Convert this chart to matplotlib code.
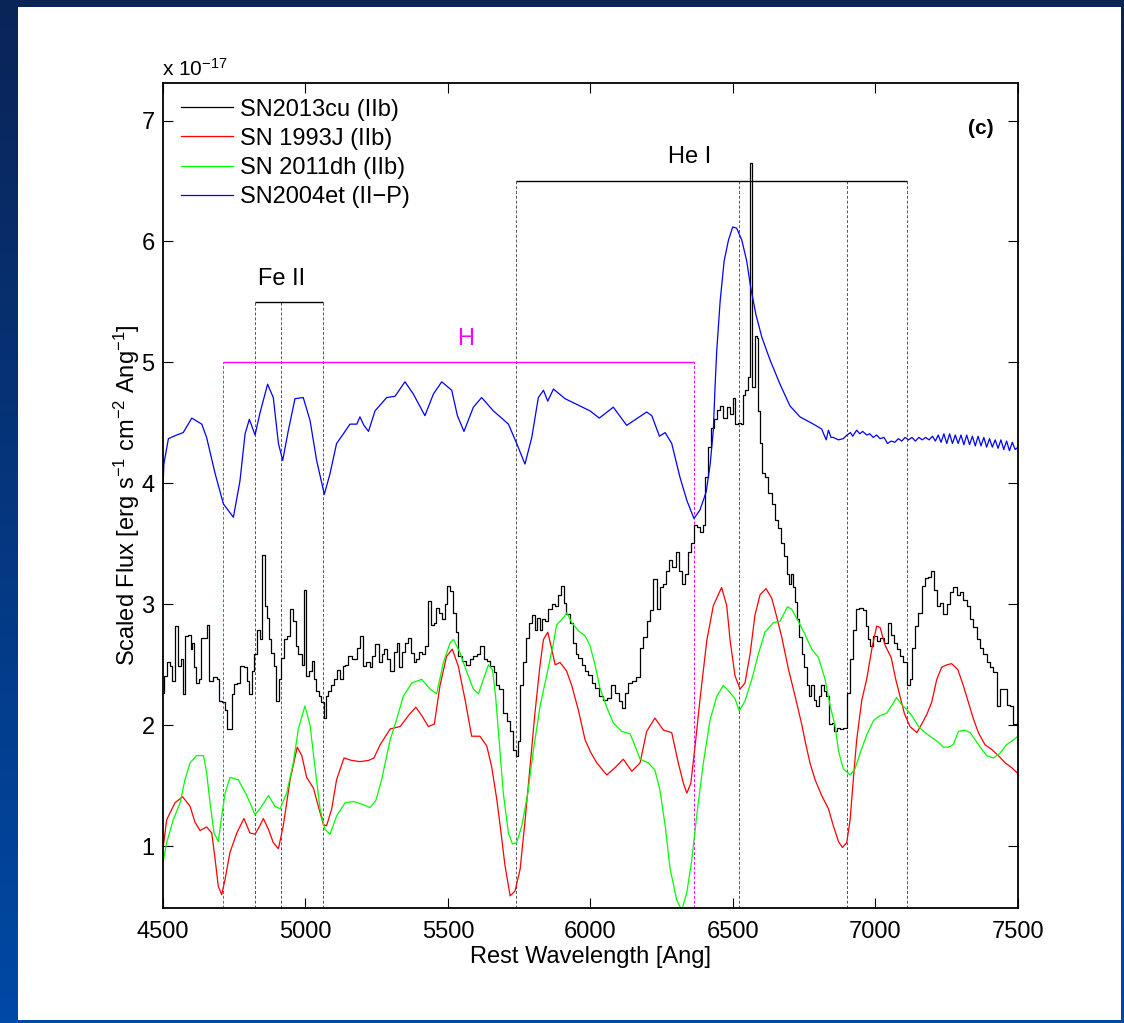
import matplotlib
matplotlib.use("Agg")
import matplotlib.pyplot as plt
import numpy as np
from matplotlib.colors import LinearSegmentedColormap
from matplotlib.patches import Rectangle

plt.rcParams["font.family"] = ["Liberation Sans", "DejaVu Sans"]
plt.rcParams["mathtext.fontset"] = "custom"
plt.rcParams["mathtext.rm"] = "Liberation Sans"
plt.rcParams["mathtext.it"] = "Liberation Sans:italic"

# spectra, flux in units of 1e-17 erg/s/cm2/A
wl_13cu = [4500, 4507, 4519, 4530, 4536, 4548, 4557, 4566, 4574, 4583, 4592, 4601, 4606, 4612,
           4620, 4630, 4639, 4651, 4659, 4665, 4683, 4694, 4702, 4712, 4721, 4729, 4737, 4745,
           4756, 4764, 4774, 4791, 4799, 4808, 4815, 4826, 4835, 4844, 4852, 4861, 4870, 4876,
           4885, 4893, 4902, 4911, 4920, 4932, 4940, 4952, 4961, 4969, 4981, 4992, 4999, 5008,
           5018, 5028, 5033, 5041, 5051, 5060, 5068, 5074, 5086, 5095, 5107, 5115, 5127, 5133,
           5145, 5154, 5174, 5188, 5197, 5205, 5221, 5229, 5238, 5252, 5261, 5273, 5281, 5291,
           5305, 5316, 5323, 5332, 5343, 5355, 5367, 5375, 5384, 5394, 5402, 5414, 5425, 5437,
           5445, 5455, 5464, 5472, 5484, 5492, 5501, 5513, 5522, 5531, 5542, 5554, 5569, 5583,
           5595, 5607, 5621, 5630, 5642, 5656, 5665, 5674, 5686, 5700, 5712, 5724, 5733, 5741,
           5749, 5759, 5770, 5780, 5788, 5800, 5808, 5817, 5826, 5835, 5846, 5858, 5870, 5881,
           5893, 5901, 5911, 5920, 5934, 5943, 5952, 5963, 5975, 5987, 5998, 6010, 6022, 6039,
           6051, 6063, 6080, 6092, 6106, 6115, 6127, 6139, 6153, 6168, 6180, 6191, 6203, 6215,
           6226, 6238, 6250, 6261, 6270, 6281, 6293, 6305, 6317, 6326, 6338, 6349, 6359, 6367,
           6378, 6390, 6398, 6408, 6418, 6430, 6440, 6449, 6460, 6472, 6484, 6495, 6504, 6513,
           6522, 6531, 6536, 6548, 6554, 6563, 6569, 6575, 6581, 6586, 6590, 6597, 6607, 6618,
           6630, 6642, 6653, 6665, 6674, 6683, 6694, 6700, 6706, 6714, 6721, 6729, 6737, 6747,
           6754, 6762, 6770, 6779, 6788, 6797, 6805, 6814, 6823, 6832, 6841, 6852, 6860, 6870,
           6881, 6893, 6905, 6914, 6926, 6938, 6949, 6961, 6969, 6977, 6987, 6998, 7010, 7024,
           7039, 7048, 7059, 7071, 7083, 7092, 7104, 7115, 7125, 7133, 7145, 7156, 7168, 7180,
           7191, 7200, 7209, 7221, 7232, 7244, 7256, 7267, 7279, 7291, 7302, 7314, 7326, 7338,
           7349, 7361, 7373, 7384, 7396, 7408, 7420, 7431, 7443, 7455, 7466, 7478, 7490, 7500]
fl_13cu = [2.27, 2.41, 2.52, 2.49, 2.37, 2.82, 2.49, 2.55, 2.26, 2.74, 2.75, 2.63, 2.68, 2.48,
           2.35, 2.38, 2.72, 2.72, 2.83, 2.37, 2.40, 2.38, 2.20, 2.19, 2.13, 1.97, 1.97, 2.26,
           2.34, 2.35, 2.49, 2.48, 2.37, 2.26, 2.45, 2.59, 2.79, 2.71, 3.41, 2.99, 2.89, 2.71,
           2.60, 2.49, 2.20, 2.38, 2.56, 2.71, 2.74, 2.96, 2.86, 2.66, 2.59, 2.50, 3.12, 2.41,
           2.45, 2.53, 2.38, 2.28, 2.24, 2.19, 2.06, 2.24, 2.28, 2.33, 2.38, 2.46, 2.38, 2.49,
           2.50, 2.57, 2.55, 2.64, 2.74, 2.49, 2.52, 2.48, 2.57, 2.67, 2.52, 2.59, 2.63, 2.55,
           2.45, 2.61, 2.68, 2.48, 2.61, 2.68, 2.72, 2.60, 2.52, 2.55, 2.61, 2.59, 2.66, 3.03,
           2.83, 2.85, 2.97, 2.93, 2.88, 3.00, 3.15, 3.11, 2.93, 2.77, 2.57, 2.53, 2.50, 2.55,
           2.57, 2.59, 2.66, 2.55, 2.53, 2.49, 2.44, 2.33, 2.30, 2.10, 2.04, 1.95, 1.80, 1.75,
           1.87, 2.33, 2.52, 2.72, 2.85, 2.91, 2.79, 2.89, 2.79, 2.88, 2.86, 2.96, 3.00, 2.99,
           3.08, 3.15, 3.01, 2.92, 2.85, 2.68, 2.59, 2.56, 2.50, 2.45, 2.42, 2.35, 2.31, 2.24,
           2.21, 2.23, 2.33, 2.27, 2.20, 2.14, 2.27, 2.35, 2.37, 2.40, 2.64, 2.73, 2.86, 2.95,
           3.21, 2.96, 3.14, 3.17, 3.28, 3.37, 3.31, 3.43, 3.28, 3.17, 3.25, 3.43, 3.51, 3.66,
           3.64, 3.60, 3.66, 4.05, 4.30, 4.46, 4.53, 4.61, 4.64, 4.54, 4.63, 4.57, 4.71, 4.49,
           4.50, 4.49, 4.73, 4.77, 4.88, 6.65, 4.80, 4.80, 5.22, 5.20, 4.60, 4.33, 4.09, 4.05,
           3.92, 3.83, 3.70, 3.63, 3.51, 3.40, 3.25, 3.17, 3.25, 3.14, 3.02, 2.88, 2.73, 2.59,
           2.48, 2.33, 2.24, 2.33, 2.21, 2.16, 2.24, 2.33, 2.28, 2.24, 2.01, 2.02, 1.95, 1.98,
           1.97, 1.98, 2.27, 2.55, 2.79, 2.96, 2.97, 2.95, 2.82, 2.71, 2.66, 2.74, 2.70, 2.72,
           2.68, 2.85, 2.75, 2.68, 2.63, 2.57, 2.52, 2.33, 2.38, 2.64, 2.82, 2.93, 3.15, 3.22,
           3.23, 3.28, 3.12, 2.99, 3.01, 2.92, 3.00, 3.10, 3.14, 3.08, 3.10, 3.04, 2.99, 2.88,
           2.81, 2.71, 2.64, 2.59, 2.52, 2.48, 2.44, 2.16, 2.30, 2.30, 2.17, 2.16, 2.01, 2.00]

wl_93j = [4500, 4513, 4542, 4569, 4595, 4612, 4630, 4653, 4671, 4683, 4694, 4706, 4718, 4735,
          4759, 4784, 4805, 4823, 4840, 4852, 4870, 4887, 4905, 4922, 4946, 4971, 4987, 5004,
          5028, 5045, 5063, 5074, 5092, 5109, 5135, 5162, 5191, 5221, 5240, 5262, 5297, 5332,
          5361, 5387, 5408, 5431, 5452, 5472, 5495, 5515, 5536, 5560, 5583, 5612, 5636, 5653,
          5671, 5683, 5700, 5718, 5735, 5753, 5770, 5788, 5805, 5823, 5835, 5850, 5864, 5876,
          5893, 5916, 5934, 5957, 5981, 6000, 6022, 6057, 6086, 6115, 6145, 6174, 6197, 6226,
          6256, 6285, 6308, 6326, 6338, 6352, 6367, 6384, 6408, 6431, 6460, 6478, 6490, 6507,
          6525, 6542, 6560, 6577, 6595, 6616, 6636, 6653, 6671, 6694, 6718, 6741, 6753, 6770,
          6788, 6811, 6835, 6852, 6870, 6884, 6899, 6911, 6922, 6934, 6952, 6969, 6987, 7004,
          7016, 7034, 7055, 7071, 7086, 7101, 7121, 7145, 7162, 7180, 7197, 7215, 7232, 7250,
          7267, 7289, 7308, 7326, 7344, 7361, 7384, 7408, 7431, 7455, 7478, 7500]
fl_93j = [0.98, 1.22, 1.36, 1.41, 1.33, 1.20, 1.13, 1.16, 1.11, 0.89, 0.67, 0.60, 0.73, 0.95,
          1.11, 1.23, 1.11, 1.10, 1.17, 1.23, 1.14, 1.03, 0.98, 1.17, 1.55, 1.82, 1.75, 1.57,
          1.48, 1.33, 1.18, 1.17, 1.31, 1.55, 1.73, 1.71, 1.70, 1.71, 1.73, 1.84, 1.97, 1.99,
          2.08, 2.15, 2.08, 1.99, 2.01, 2.33, 2.57, 2.63, 2.49, 2.21, 1.91, 1.91, 1.83, 1.66,
          1.39, 1.17, 0.84, 0.59, 0.63, 0.81, 1.20, 1.66, 2.10, 2.50, 2.71, 2.77, 2.63, 2.50,
          2.52, 2.45, 2.33, 2.13, 1.88, 1.78, 1.69, 1.59, 1.65, 1.72, 1.62, 1.69, 1.95, 2.06,
          1.96, 1.94, 1.69, 1.52, 1.44, 1.52, 1.83, 2.21, 2.70, 2.99, 3.14, 2.99, 2.70, 2.41,
          2.30, 2.35, 2.59, 2.91, 3.08, 3.13, 3.05, 2.90, 2.73, 2.47, 2.24, 2.01, 1.87, 1.69,
          1.55, 1.42, 1.31, 1.17, 1.04, 0.99, 1.03, 1.22, 1.55, 1.88, 2.21, 2.38, 2.63, 2.82,
          2.81, 2.66, 2.56, 2.38, 2.24, 2.10, 1.99, 1.94, 2.01, 2.09, 2.19, 2.38, 2.48, 2.50,
          2.51, 2.46, 2.33, 2.19, 2.05, 1.94, 1.84, 1.80, 1.75, 1.69, 1.65, 1.60]

wl_11dh = [4500, 4513, 4536, 4560, 4577, 4595, 4618, 4642, 4653, 4665, 4679, 4694, 4706, 4718,
           4735, 4764, 4794, 4823, 4846, 4870, 4893, 4911, 4934, 4957, 4975, 4998, 5016, 5033,
           5051, 5068, 5086, 5109, 5139, 5168, 5197, 5226, 5247, 5267, 5297, 5320, 5343, 5373,
           5408, 5437, 5460, 5484, 5507, 5519, 5542, 5566, 5589, 5607, 5624, 5642, 5656, 5667,
           5679, 5694, 5712, 5726, 5741, 5759, 5780, 5800, 5823, 5846, 5870, 5881, 5905, 5917,
           5934, 5958, 5981, 5998, 6016, 6033, 6057, 6080, 6109, 6139, 6156, 6174, 6203, 6226,
           6244, 6262, 6279, 6302, 6320, 6338, 6355, 6373, 6396, 6419, 6443, 6466, 6490, 6507,
           6522, 6542, 6566, 6589, 6612, 6642, 6665, 6691, 6706, 6729, 6753, 6776, 6800, 6823,
           6841, 6858, 6870, 6887, 6911, 6928, 6946, 6969, 6993, 7016, 7039, 7059, 7074, 7092,
           7110, 7127, 7151, 7174, 7197, 7221, 7238, 7256, 7273, 7291, 7314, 7332, 7350, 7367,
           7390, 7414, 7437, 7460, 7484, 7500]
fl_11dh = [0.87, 1.03, 1.22, 1.36, 1.55, 1.69, 1.75, 1.75, 1.61, 1.36, 1.11, 1.04, 1.25, 1.44,
           1.57, 1.55, 1.42, 1.26, 1.33, 1.42, 1.33, 1.31, 1.44, 1.69, 1.97, 2.16, 2.00, 1.66,
           1.31, 1.14, 1.10, 1.25, 1.36, 1.37, 1.35, 1.32, 1.38, 1.55, 1.88, 2.05, 2.24, 2.35,
           2.38, 2.30, 2.26, 2.52, 2.68, 2.71, 2.60, 2.44, 2.30, 2.26, 2.38, 2.50, 2.46, 2.24,
           1.88, 1.44, 1.11, 1.02, 1.03, 1.17, 1.44, 1.80, 2.16, 2.41, 2.68, 2.83, 2.89, 2.93,
           2.85, 2.78, 2.74, 2.66, 2.50, 2.31, 2.15, 2.02, 1.95, 1.93, 1.83, 1.72, 1.69, 1.63,
           1.46, 1.17, 0.82, 0.56, 0.47, 0.62, 0.88, 1.26, 1.69, 2.04, 2.24, 2.33, 2.27, 2.22,
           2.12, 2.20, 2.38, 2.59, 2.77, 2.85, 2.86, 2.98, 2.96, 2.86, 2.75, 2.63, 2.56, 2.38,
           2.16, 2.00, 1.79, 1.64, 1.59, 1.64, 1.77, 1.92, 2.04, 2.08, 2.10, 2.17, 2.23, 2.17,
           2.13, 2.08, 1.99, 1.94, 1.90, 1.86, 1.82, 1.82, 1.84, 1.95, 1.96, 1.94, 1.88, 1.82,
           1.75, 1.73, 1.77, 1.84, 1.88, 1.91]

wl_04et = [4500, 4503, 4519, 4548, 4571, 4601, 4636, 4653, 4683, 4712, 4747, 4770, 4788, 4803,
           4823, 4840, 4867, 4887, 4905, 4920, 4940, 4963, 4992, 5016, 5039, 5066, 5086, 5109,
           5133, 5156, 5180, 5191, 5205, 5221, 5244, 5285, 5314, 5349, 5378, 5419, 5449, 5478,
           5513, 5533, 5556, 5589, 5618, 5659, 5712, 5741, 5770, 5794, 5817, 5835, 5850, 5870,
           5911, 5963, 5998, 6031, 6080, 6127, 6197, 6215, 6242, 6262, 6285, 6314, 6338, 6363,
           6384, 6406, 6420, 6431, 6437, 6443, 6455, 6469, 6484, 6499, 6513, 6531, 6548, 6562,
           6580, 6601, 6630, 6665, 6700, 6735, 6782, 6811, 6827, 6835, 6844, 6852, 6870, 6887,
           6900, 6912, 6920, 6934, 6945, 6955, 6969, 6980, 6992, 7004, 7016, 7030, 7042, 7055,
           7068, 7080, 7092, 7104, 7116, 7128, 7140, 7152, 7164, 7176, 7188, 7200, 7210, 7220,
           7230, 7240, 7250, 7260, 7270, 7280, 7290, 7300, 7310, 7320, 7330, 7340, 7350, 7360,
           7370, 7380, 7390, 7400, 7410, 7420, 7430, 7440, 7450, 7460, 7470, 7480, 7490, 7500]
fl_04et = [3.95, 4.16, 4.37, 4.40, 4.42, 4.54, 4.49, 4.38, 4.08, 3.83, 3.72, 4.02, 4.41, 4.53,
           4.40, 4.58, 4.82, 4.71, 4.33, 4.19, 4.44, 4.70, 4.71, 4.52, 4.19, 3.91, 4.08, 4.33,
           4.41, 4.49, 4.49, 4.55, 4.48, 4.43, 4.60, 4.71, 4.72, 4.84, 4.74, 4.56, 4.74, 4.84,
           4.77, 4.56, 4.43, 4.63, 4.71, 4.60, 4.49, 4.33, 4.16, 4.38, 4.71, 4.77, 4.68, 4.78,
           4.70, 4.64, 4.60, 4.54, 4.63, 4.48, 4.59, 4.56, 4.39, 4.42, 4.33, 4.05, 3.86, 3.71,
           3.78, 3.93, 4.16, 4.44, 4.80, 5.10, 5.51, 5.84, 6.01, 6.12, 6.11, 6.01, 5.84, 5.62,
           5.40, 5.21, 5.02, 4.82, 4.64, 4.55, 4.49, 4.45, 4.36, 4.44, 4.38, 4.38, 4.36, 4.37,
           4.40, 4.42, 4.39, 4.44, 4.41, 4.43, 4.40, 4.41, 4.38, 4.40, 4.37, 4.38, 4.33, 4.35,
           4.34, 4.37, 4.35, 4.38, 4.36, 4.38, 4.35, 4.38, 4.36, 4.38, 4.36, 4.39, 4.35, 4.40,
           4.34, 4.41, 4.33, 4.41, 4.33, 4.40, 4.33, 4.40, 4.32, 4.40, 4.32, 4.39, 4.31, 4.39,
           4.31, 4.38, 4.30, 4.37, 4.30, 4.36, 4.29, 4.36, 4.28, 4.35, 4.27, 4.34, 4.28, 4.30]

# line identifications: wavelengths and bar heights
feii_wl = [4822, 4913, 5062]
feii_bar = 5.5
h_wl = [4712, 6363]
h_bar = 5.0
hei_wl = [5737, 6522, 6901, 7112]
hei_bar = 6.5

W, H = 1124, 1023
fig = plt.figure(figsize=(W / 100, H / 100), dpi=100)

# blue slide background with a white panel
bg = fig.add_axes([0, 0, 1, 1], zorder=-10)
grad = np.linspace(0, 1, 256).reshape(-1, 1)
cmap = LinearSegmentedColormap.from_list("slide", ["#0a2457", "#0049a6"])
bg.imshow(grad, aspect="auto", cmap=cmap, extent=[0, 1, 0, 1], origin="upper")
bg.add_patch(Rectangle((18 / W, 3 / H), (1121 - 18) / W, (1016 - 3) / H,
                       transform=bg.transAxes, fc="white", ec="none"))
bg.set_xlim(0, 1)
bg.set_ylim(0, 1)
bg.axis("off")

ax = fig.add_axes([163 / W, 1 - 908 / H, 855 / W, 825 / H])
ax.set_facecolor("white")
ymin, ymax = 0.49, 7.31

lw = 0.9
ax.plot(wl_13cu, fl_13cu, color="black", lw=lw, drawstyle="steps-mid", label="SN2013cu (IIb)")
ax.plot(wl_93j, fl_93j, color="#ff0000", lw=lw, label="SN 1993J (IIb)")
ax.plot(wl_11dh, fl_11dh, color="#00ff00", lw=lw, label="SN 2011dh (IIb)")
ax.plot(wl_04et, fl_04et, color="#0000ff", lw=lw, label="SN2004et (II\u2212P)")

dash = dict(lw=0.7, linestyles=(0, (3, 2)), zorder=1)
ax.vlines(feii_wl, ymin, feii_bar, colors="#555555", **dash)
ax.hlines(feii_bar, feii_wl[0], feii_wl[-1], colors="black", lw=1.0)
ax.text(np.mean([feii_wl[0], feii_wl[-1]]) - 25, 5.69, "Fe II", ha="center", va="center", fontsize=17)

ax.vlines(h_wl, ymin, h_bar, colors="#ff00ff", **dash)
ax.hlines(h_bar, h_wl[0], h_wl[-1], colors="#ff00ff", lw=1.0)
ax.text(5563, 5.19, "H", ha="center", va="center", fontsize=17, color="#ff00ff")

ax.vlines(hei_wl, ymin, hei_bar, colors="#555555", **dash)
ax.hlines(hei_bar, hei_wl[0], hei_wl[-1], colors="black", lw=1.0)
ax.text(6348, 6.70, "He I", ha="center", va="center", fontsize=17)

ax.text(7368, 6.93, "(c)", ha="center", va="center", fontsize=15, fontweight="bold")

ax.set_xlim(4500, 7500)
ax.set_ylim(ymin, ymax)
ax.set_xticks(np.arange(4500, 7501, 500))
ax.set_yticks(np.arange(1, 8))
ax.tick_params(direction="in", top=True, right=True, length=7, width=0.8, labelsize=17)
ax.tick_params(axis="x", pad=9)
ax.tick_params(axis="y", pad=6)
for s in ax.spines.values():
    s.set_linewidth(1.3)

ax.set_xlabel("Rest Wavelength [Ang]", fontsize=17)
ax.xaxis.set_label_coords(0.5, -0.046)
ax.set_ylabel("Scaled Flux [erg s$^{-1}$ cm$^{-2}$ Ang$^{-1}$]", fontsize=17)
ax.yaxis.set_label_coords(-0.025, 0.5)

fig.text(162 / W, 1 - 76 / H, "x 10$^{-17}$", ha="left", va="baseline", fontsize=15)

ax.legend(loc="upper left", bbox_to_anchor=(0.021, 0.981), frameon=False, fontsize=17,
          handlelength=2.2, handletextpad=0.3, labelspacing=0.3, borderpad=0,
          borderaxespad=0)

fig.savefig("out.png", dpi=100)
